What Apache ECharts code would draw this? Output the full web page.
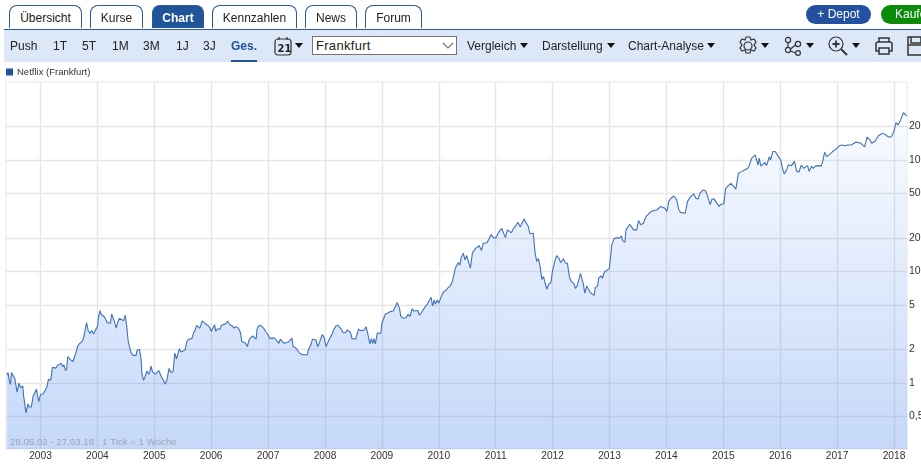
<!DOCTYPE html>
<html>
<head>
<meta charset="utf-8">
<title>Netflix (Frankfurt)</title>
<script src="https://cdn.jsdelivr.net/npm/echarts@6/dist/echarts.min.js"></script>
<style>
html,body{margin:0;padding:0;background:#fff;overflow:hidden;width:921px;height:467px;font-family:"Liberation Sans",Arial,sans-serif;color:#222}
#chart{position:absolute;left:0;top:0;width:921px;height:467px}
.tab{position:absolute;top:5px;height:23px;line-height:25px;font-size:12px;text-align:center;box-sizing:border-box;border:1px solid #2c5a94;border-bottom:0;border-radius:8px 8px 0 0;background:#fff}
.tab.on{background:#1f5499;color:#fff;font-weight:bold}
#bar{position:absolute;left:4px;top:29px;width:917px;height:33px;background:#dce8f8;border-top:1px solid #2c5a94;box-sizing:border-box}
.it{position:absolute;top:39px;font-size:12px;line-height:14px;white-space:nowrap}
.car{position:absolute;top:43px;width:0;height:0;border-left:4.5px solid transparent;border-right:4.5px solid transparent;border-top:5px solid #111}
#sel{position:absolute;left:312px;top:36px;width:145px;height:19px;background:#fff;border:1px solid #767676;box-sizing:border-box;font-size:13px;line-height:17px;padding-left:3px;letter-spacing:.3px}
.btn{position:absolute;top:5px;height:19px;line-height:19px;border-radius:10px;color:#fff;font-size:12px;text-align:center}
svg{position:absolute;fill:none;stroke:#333;stroke-width:1.2}
</style>
</head>
<body>
<div id="chart"></div>
<div class="tab" style="left:9px;width:73px">Übersicht</div>
<div class="tab" style="left:90px;width:53px">Kurse</div>
<div class="tab on" style="left:152px;width:52px">Chart</div>
<div class="tab" style="left:212px;width:85px">Kennzahlen</div>
<div class="tab" style="left:305px;width:52px">News</div>
<div class="tab" style="left:365px;width:57px">Forum</div>
<div class="btn" style="left:806px;width:65px;background:#22519f">+ Depot</div>
<div class="btn" style="left:881px;width:66px;background:#0a8c0a">Kaufen</div>
<div id="bar"></div>
<div class="it" style="left:10px">Push</div>
<div class="it" style="left:53px">1T</div>
<div class="it" style="left:82px">5T</div>
<div class="it" style="left:112px">1M</div>
<div class="it" style="left:143px">3M</div>
<div class="it" style="left:176px">1J</div>
<div class="it" style="left:203px">3J</div>
<div class="it" style="left:231px;font-weight:bold;color:#1f5499">Ges.</div>
<div style="position:absolute;left:231px;top:60px;width:26px;height:2px;background:#1f5499"></div>
<svg style="left:274px;top:36px" width="18" height="20"><rect x="1" y="3" width="16" height="16" rx="3"/><path d="M5 1v3M13 1v3"/><text x="3.5" y="16" font-size="10" font-weight="bold" fill="#222" stroke="none" font-family="DejaVu Sans">21</text></svg>
<div class="car" style="left:295px"></div>
<div id="sel">Frankfurt</div>
<svg style="left:442px;top:42px" width="12" height="8"><path d="M1 1l5 5 5-5" stroke="#777"/></svg>
<div class="it" style="left:467px">Vergleich</div><div class="car" style="left:520px"></div>
<div class="it" style="left:542px">Darstellung</div><div class="car" style="left:607px"></div>
<div class="it" style="left:628px">Chart-Analyse</div><div class="car" style="left:707px"></div>
<svg style="left:738px;top:36px" width="20" height="20"><path d="M8 1h4l1 3 3-1 2 3-2 3 2 3-2 3-3-1-1 3H8l-1-3-3 1-2-3 2-3-2-3 2-3 3 1z"/><circle cx="10" cy="10" r="4"/></svg>
<div class="car" style="left:761px"></div>
<svg style="left:784px;top:36px" width="19" height="20"><circle cx="4" cy="4" r="2.6"/><circle cx="14" cy="8" r="2.6"/><circle cx="4" cy="14" r="2.6"/><circle cx="14" cy="17" r="2.4"/><path d="M4 7v4M6.5 13l5-4M6.5 15l5 2"/></svg>
<div class="car" style="left:806px"></div>
<svg style="left:828px;top:36px" width="21" height="20"><circle cx="8" cy="8" r="7"/><path d="M8 4.5v7M4.5 8h7" stroke-width="1.8"/><path d="M13 13l6 6" stroke-width="2"/></svg>
<div class="car" style="left:852px"></div>
<svg style="left:874px;top:36px" width="20" height="20"><path d="M5 6V2h10v4M5 15H2V8q0-2 2-2h12q2 0 2 2v7h-3" stroke-width="1.5"/><rect x="5" y="12" width="10" height="6" stroke-width="1.5"/></svg>
<svg style="left:907px;top:36px" width="18" height="20"><rect x="1" y="1" width="17" height="18" stroke-width="1.5"/><path d="M4 1v6h10V1M1 9h17" stroke-width="1.5"/></svg>
<script>
// Netflix, Frankfurt, 28.05.02 - 27.03.18
var seriesName = 'Netflix (Frankfurt)';
var rangeText = '28.05.02 - 27.03.18';
var tickText = '1 Tick = 1 Woche';
var yearTicks = [2003,2004,2005,2006,2007,2008,2009,2010,2011,2012,2013,2014,2015,2016,2017,2018];
var priceTicks = [0.5,1,2,5,10,20,50,100,200];

var years = [
2002.41,2002.43,2002.45,2002.47,2002.49,2002.52,2002.55,2002.57,2002.59,2002.62,2002.65,2002.66,2002.69,2002.70,2002.73,2002.745,2002.76,2002.78,2002.80,2002.82,2002.84,2002.87,2002.90,2002.93,2002.95,2002.97,
2003.00,2003.02,2003.05,2003.085,2003.11,2003.14,2003.18,2003.21,2003.24,2003.27,2003.30,2003.325,2003.36,2003.39,2003.41,2003.44,2003.46,2003.48,2003.52,2003.54,2003.57,2003.60,2003.62,2003.65,2003.68,2003.71,2003.74,2003.765,2003.79,2003.81,2003.835,2003.87,2003.90,2003.935,2003.96,
2004.00,2004.02,2004.05,2004.06,2004.09,2004.12,2004.15,2004.175,2004.20,2004.23,2004.25,2004.28,2004.30,2004.33,2004.36,2004.39,2004.42,2004.46,2004.49,2004.515,2004.54,2004.56,2004.59,2004.63,2004.655,2004.68,2004.70,2004.73,2004.74,2004.77,2004.78,2004.81,2004.84,2004.87,2004.90,2004.925,2004.94,2004.97,2004.99,
2005.02,2005.05,2005.08,2005.12,2005.15,2005.17,2005.19,2005.22,2005.26,2005.29,2005.33,2005.36,2005.39,2005.42,2005.44,2005.47,2005.50,2005.54,2005.57,2005.60,2005.63,2005.66,2005.69,2005.715,2005.745,2005.77,2005.80,2005.84,2005.87,2005.91,2005.95,2005.98,
2006.00,2006.03,2006.06,2006.08,2006.11,2006.155,2006.18,2006.21,2006.25,2006.29,2006.33,2006.37,2006.40,2006.44,2006.48,2006.51,2006.54,2006.565,2006.605,2006.635,2006.67,2006.69,2006.73,2006.76,2006.79,2006.805,2006.83,2006.87,2006.92,2006.96,
2007.00,2007.03,2007.075,2007.115,2007.15,2007.19,2007.215,2007.25,2007.28,2007.315,2007.355,2007.385,2007.42,2007.44,2007.485,2007.52,2007.555,2007.58,2007.61,2007.64,2007.69,2007.71,2007.75,2007.78,2007.81,2007.84,2007.87,2007.89,2007.92,2007.95,2007.98,
2008.02,2008.04,2008.08,2008.12,2008.15,2008.17,2008.19,2008.23,2008.26,2008.29,2008.32,2008.36,2008.39,2008.42,2008.45,2008.475,2008.51,2008.54,2008.57,2008.59,2008.63,2008.66,2008.69,2008.72,2008.745,2008.77,2008.79,2008.815,2008.84,2008.86,2008.885,2008.92,2008.95,2008.98,
2009.00,2009.03,2009.06,2009.10,2009.13,2009.16,2009.20,2009.23,2009.27,2009.31,2009.33,2009.37,2009.39,2009.425,2009.46,2009.495,2009.53,2009.565,2009.595,2009.63,2009.66,2009.695,2009.73,2009.765,2009.80,2009.835,2009.865,2009.89,2009.92,2009.94,2009.975,
2010.00,2010.03,2010.06,2010.09,2010.13,2010.16,2010.20,2010.23,2010.26,2010.29,2010.315,2010.34,2010.37,2010.39,2010.43,2010.46,2010.49,2010.52,2010.555,2010.59,2010.62,2010.65,2010.68,2010.71,2010.75,2010.78,2010.81,2010.85,2010.89,2010.92,2010.96,
2011.00,2011.03,2011.06,2011.105,2011.135,2011.17,2011.205,2011.24,2011.275,2011.31,2011.35,2011.39,2011.43,2011.46,2011.50,2011.53,2011.57,2011.60,2011.66,2011.69,2011.72,2011.75,2011.78,2011.81,2011.84,2011.87,2011.90,2011.93,2011.97,
2012.00,2012.04,2012.07,2012.11,2012.14,2012.16,2012.19,2012.22,2012.26,2012.295,2012.32,2012.35,2012.38,2012.40,2012.435,2012.46,2012.49,2012.52,2012.54,2012.565,2012.60,2012.635,2012.67,2012.705,2012.73,2012.75,2012.79,2012.81,2012.85,2012.875,2012.91,2012.94,2012.997,
2013.02,2013.04,2013.08,2013.13,2013.17,2013.21,2013.23,2013.27,2013.29,2013.325,2013.355,2013.39,2013.42,2013.48,2013.51,2013.55,2013.595,2013.64,2013.69,2013.72,2013.75,2013.78,2013.83,2013.86,2013.90,2013.935,2013.975,
2014.01,2014.04,2014.075,2014.13,2014.18,2014.215,2014.245,2014.28,2014.33,2014.37,2014.415,2014.45,2014.48,2014.515,2014.555,2014.59,2014.645,2014.685,2014.71,2014.74,2014.77,2014.80,2014.84,2014.88,2014.925,2014.96,
2015.01,2015.04,2015.08,2015.13,2015.18,2015.22,2015.265,2015.295,2015.33,2015.375,2015.44,2015.47,2015.50,2015.53,2015.56,2015.585,2015.61,2015.63,2015.66,2015.69,2015.73,2015.76,2015.81,2015.83,2015.87,2015.91,2015.95,2015.985,
2016.01,2016.04,2016.07,2016.11,2016.14,2016.20,2016.25,2016.29,2016.33,2016.37,2016.41,2016.44,2016.48,2016.51,2016.55,2016.58,2016.62,2016.665,2016.72,2016.75,2016.78,2016.82,2016.86,2016.92,2016.98,
2017.04,2017.09,2017.13,2017.18,2017.215,2017.25,2017.285,2017.33,2017.38,2017.42,2017.485,2017.525,2017.57,2017.61,2017.67,2017.725,2017.78,2017.825,2017.87,2017.92,2017.96,
2018.00,2018.035,2018.07,2018.12,2018.165,2018.21,2018.23
];

var prices = [
1.18,1.24,1.06,0.97,1.24,1.24,1.09,0.94,0.83,1.00,0.91,0.89,0.94,0.79,0.78,0.54,0.52,0.65,0.61,0.63,0.61,0.76,0.79,0.88,0.76,0.68,
0.79,0.81,0.80,0.78,0.91,1.08,1.06,1.38,1.42,1.36,1.44,1.40,1.50,1.40,1.46,1.29,1.35,1.72,1.63,1.65,1.56,1.52,1.85,2.12,2.24,2.24,2.39,2.64,3.09,3.48,2.99,2.78,2.95,2.75,2.95,
3.20,3.93,4.47,4.16,4.22,3.93,3.87,3.48,3.53,3.43,4.16,4.10,3.55,3.11,3.53,3.80,3.67,3.61,4.05,3.25,2.39,2.43,1.87,1.77,1.75,1.77,1.98,1.92,2.00,1.61,1.24,1.06,1.15,1.28,1.20,1.27,1.42,1.26,1.29,
1.20,1.20,1.29,1.15,1.08,1.06,0.98,1.06,1.35,1.24,1.26,1.85,1.65,1.85,2.03,1.90,1.98,1.98,2.33,2.47,2.54,2.50,2.82,2.95,3.29,3.16,3.09,3.61,3.48,3.36,3.25,3.11,
2.90,2.88,3.33,2.90,3.07,3.03,3.29,3.20,3.39,3.58,3.33,3.25,3.11,3.20,3.09,2.87,2.35,2.30,2.27,2.12,2.47,2.57,2.64,2.57,2.47,3.03,3.25,3.29,3.11,2.88,
2.71,2.50,2.54,2.52,2.47,2.27,2.47,2.57,2.27,2.30,2.33,2.30,2.52,2.12,2.07,2.04,1.85,1.78,1.79,1.78,1.79,2.00,2.19,2.47,2.55,2.43,2.12,2.21,2.27,2.71,2.60,
2.12,2.09,2.51,2.70,2.99,2.88,3.25,3.29,3.39,3.03,2.82,2.82,2.99,2.99,2.82,2.50,2.47,2.48,2.82,3.03,2.95,3.03,2.99,3.20,2.88,2.47,2.24,2.50,2.27,2.50,2.24,2.82,2.88,2.78,
3.43,3.31,4.16,4.22,4.07,4.39,4.42,4.58,5.26,4.67,3.98,3.82,3.98,3.85,4.13,3.93,4.63,4.42,4.58,4.47,4.05,4.29,4.42,4.86,5.10,5.55,5.86,4.90,5.55,5.10,5.55,
5.20,5.01,6.26,6.60,6.82,7.12,7.43,7.93,9.00,10.7,11.1,12.0,11.4,13.1,14.6,12.7,13.9,12.3,10.7,14.6,14.1,16.2,15.8,17.0,15.4,17.9,17.5,18.1,20.1,21.4,20.1,
20.0,19.4,22.8,24.4,22.3,20.1,23.6,23.2,22.3,24.2,25.6,27.6,25.0,27.0,29.5,27.4,25.6,21.8,22.0,15.0,12.3,13.1,11.1,8.50,9.00,7.80,6.93,7.70,7.93,
10.3,12.3,13.9,13.1,12.0,11.6,13.0,12.0,11.8,9.00,8.25,8.39,7.70,7.05,7.50,7.20,9.60,9.70,7.70,6.40,7.43,6.82,6.42,6.40,6.10,7.20,7.43,8.70,9.15,8.70,9.90,9.60,10.6,
10.6,17.3,19.7,20.1,19.9,20.8,18.9,18.3,23.6,24.0,26.5,25.0,23.6,23.6,28.6,26.2,27.1,31.0,32.8,34.2,33.3,35.2,35.6,37.0,38.3,39.5,36.8,
34.5,42.3,45.1,47.5,43.8,36.2,33.9,35.2,33.3,42.3,46.3,47.0,49.7,45.5,44.5,50.3,53.8,53.0,49.7,51.6,39.8,44.5,44.5,41.4,38.3,40.1,
40.4,55.7,58.3,61.7,58.3,54.6,75.9,74.8,79.0,81.3,85,86,104,107,111,113,90,104,88,90,95,89,107,100,119,119,111,109,
99,84,75,81,90,89,97,79,78,90,84,81,89,79,88,84,88,89,88,98,117,107,111,119,125,
134,136,134,136,134,136,134,145,143,141,131,160,153,141,148,165,172,172,165,160,162,
182,216,206,231,265,252,250
];

var points = years.map(function (y, i) { return [y, prices[i]]; });

var myChart = echarts.init(document.getElementById('chart'), null, {renderer: 'canvas'});
var option = {
	animation: false,
	backgroundColor: '#fff',
	legend: {
		left: 2,
		top: 67,
		padding: [0, 0, 0, 4],
		itemWidth: 7,
		itemHeight: 7,
		itemGap: 0,
		icon: 'rect',
		selectedMode: false,
		data: [seriesName],
		textStyle: {fontFamily: 'Liberation Sans', fontSize: 9.5, color: '#333', padding: [0, 0, 0, -1]}
	},
	grid: {
		left: 6,
		right: 14,
		top: 82,
		height: 367,
		outerBoundsMode: 'none',
		show: true,
		borderColor: '#e6e6e6',
		borderWidth: 1,
		backgroundColor: 'transparent'
	},
	xAxis: {
		type: 'value',
		min: 2002.394,
		max: 2018.228,
		axisLine: {show: false},
		axisTick: {show: false, customValues: yearTicks},
		axisLabel: {
			customValues: yearTicks,
			margin: 2,
			fontFamily: 'Liberation Sans',
			fontSize: 10.2,
			color: '#333',
			formatter: function (v) { return String(v); }
		},
		splitLine: {show: true, lineStyle: {color: '#e6e6e6', width: 1.4}}
	},
	yAxis: {
		type: 'log',
		logBase: 10,
		position: 'right',
		min: 0.256,
		max: 500,
		axisLine: {show: false},
		axisTick: {show: false, customValues: priceTicks},
		axisLabel: {
			customValues: priceTicks,
			margin: 2,
			fontFamily: 'Liberation Sans',
			fontSize: 10.5,
			color: '#333',
			lineHeight: 13,
			padding: [4, 0, 0, 0],
			formatter: function (v) { return String(v).replace('.', ','); }
		},
		splitLine: {show: true, lineStyle: {color: '#e6e6e6', width: 1.4}}
	},
	graphic: [{
		type: 'text',
		left: 10,
		top: 437,
		silent: true,
		z: 10,
		style: {
			text: rangeText + '   ' + tickText,
			fontFamily: 'Liberation Sans',
			fontSize: 9.7,
			fill: '#9ea4b0'
		}
	}],
	series: [{
		name: seriesName,
		type: 'line',
		data: points,
		showSymbol: false,
		smooth: false,
		sampling: null,
		itemStyle: {color: '#1f5499'},
		lineStyle: {color: '#3f72b8', width: 1.1},
		areaStyle: {
			origin: 'start',
			color: {
				type: 'linear', x: 0, y: 82, x2: 0, y2: 449, global: true,
				colorStops: [
					{offset: 0, color: 'rgba(74,134,238,0)'},
					{offset: 1, color: 'rgba(74,134,238,0.46)'}
				]
			}
		}
	}]
};
myChart.setOption(option);
</script>
</body>
</html>
